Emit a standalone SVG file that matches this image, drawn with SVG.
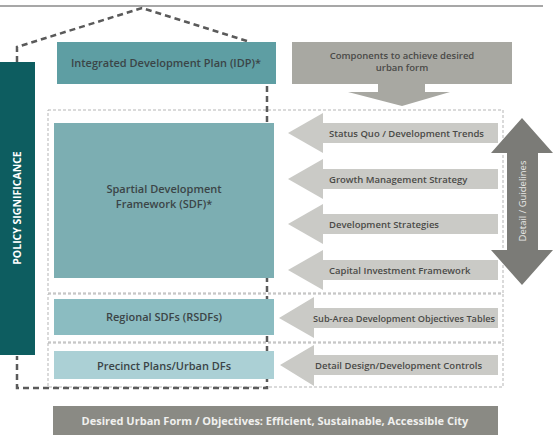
<svg xmlns="http://www.w3.org/2000/svg" width="553" height="435" viewBox="0 0 553 435">
<style>
.t{font-family:"Open Sans","Noto Sans","Liberation Sans",sans-serif;font-weight:600;fill:#3b4547;text-anchor:middle}
.a{font-family:"Open Sans","Noto Sans","Liberation Sans",sans-serif;font-weight:600;fill:#4a4a48;font-size:9.5px}
.w{font-family:"Open Sans","Noto Sans","Liberation Sans",sans-serif;font-weight:700;fill:#ffffff;text-anchor:middle}
.arr{fill:#cacac6}
.grp{fill:none;stroke:#b5b5b5;stroke-width:1;stroke-dasharray:3 2}
.house{fill:none;stroke:#5a5a5a;stroke-width:2.5;stroke-dasharray:6 4}
</style>
<rect width="553" height="435" fill="#ffffff"/>
<line x1="0" y1="6" x2="543" y2="6" stroke="#8a8a8a" stroke-width="1.5"/>

<g id="groups">
<rect class="grp" x="48" y="110" width="455" height="183"/>
<rect class="grp" x="48" y="294" width="455" height="48"/>
<rect class="grp" x="48" y="343" width="455" height="44"/>
</g>

<g id="connectors">
<path class="house" d="M17,62 L17,47 L142,8 L250,42"/>
<path class="house" d="M267,86 L267,388 L17,388 L17,356"/>
</g>

<g id="policy">
<rect x="0" y="62" width="35" height="293" fill="#0d5d60"/>
<text class="w" font-size="10.5" transform="translate(21,208) rotate(-90)">POLICY SIGNIFICANCE</text>
</g>

<g id="idp">
<rect x="57" y="42" width="219" height="42" fill="#5e9ea3"/>
<text class="t" x="166" y="67" font-size="11">Integrated Development Plan (IDP)*</text>
</g>

<g id="components">
<rect x="292" y="42" width="220" height="42" fill="#a8a8a2"/>
<polygon points="378,84 425,84 425,92 450,92 402,106 348,92 378,92" fill="#a8a8a2"/>
<text class="a" x="402" y="59" text-anchor="middle">Components to achieve desired</text>
<text class="a" x="402" y="71" text-anchor="middle">urban form</text>
</g>

<g id="sdf">
<rect x="54" y="123" width="220" height="155" fill="#7caeb2"/>
<text class="t" x="164" y="193" font-size="11">Spartial Development</text>
<text class="t" x="164" y="208" font-size="11">Framework (SDF)*</text>
</g>

<g id="rsdf">
<rect x="54" y="299" width="220" height="36" fill="#8bbcc1"/>
<text class="t" x="164" y="321" font-size="11">Regional SDFs (RSDFs)</text>
</g>

<g id="precinct">
<rect x="54" y="351" width="220" height="28" fill="#abd0d5"/>
<text class="t" x="164" y="370" font-size="11">Precinct Plans/Urban DFs</text>
</g>

<g id="status">
<polygon class="arr" points="288,133 323,113 323,123 498,123 498,143 323,143 323,153"/>
<text class="a" x="329" y="136.5">Status Quo / Development Trends</text>
</g>
<g id="growth">
<polygon class="arr" points="288,179 323,159 323,169 498,169 498,189 323,189 323,199"/>
<text class="a" x="329" y="182.5">Growth Management Strategy</text>
</g>
<g id="devstrat">
<polygon class="arr" points="288,224 323,204 323,214 498,214 498,234 323,234 323,244"/>
<text class="a" x="329" y="227.5">Development Strategies</text>
</g>
<g id="capital">
<polygon class="arr" points="288,270 323,250 323,260 498,260 498,280 323,280 323,290"/>
<text class="a" x="329" y="273.5">Capital Investment Framework</text>
</g>
<g id="subarea">
<polygon class="arr" points="279,318 314,297 314,308 498,308 498,328 314,328 314,338"/>
<text class="a" x="313" y="321.5" textLength="182" lengthAdjust="spacingAndGlyphs">Sub-Area Development Objectives Tables</text>
</g>
<g id="detaildesign">
<polygon class="arr" points="280,365 314,345 314,355 498,355 498,375 314,375 314,386"/>
<text class="a" x="315" y="368.5">Detail Design/Development Controls</text>
</g>

<g id="detail">
<polygon points="522,118 553,153 538,153 538,250 553,250 522,285 491,250 507,250 507,153 491,153" fill="#7b7b77"/>
<text class="w" font-size="9.5" style="font-weight:400;fill:#e8e8e6" transform="translate(525.5,201) rotate(-90)">Detail / Guidelines</text>
</g>

<g id="objectives">
<rect x="53" y="406" width="445" height="29" fill="#8a8a84"/>
<text class="w" x="275" y="425" font-size="11" style="fill:#f0f0ee">Desired Urban Form / Objectives: Efficient, Sustainable, Accessible City</text>
</g>
</svg>
